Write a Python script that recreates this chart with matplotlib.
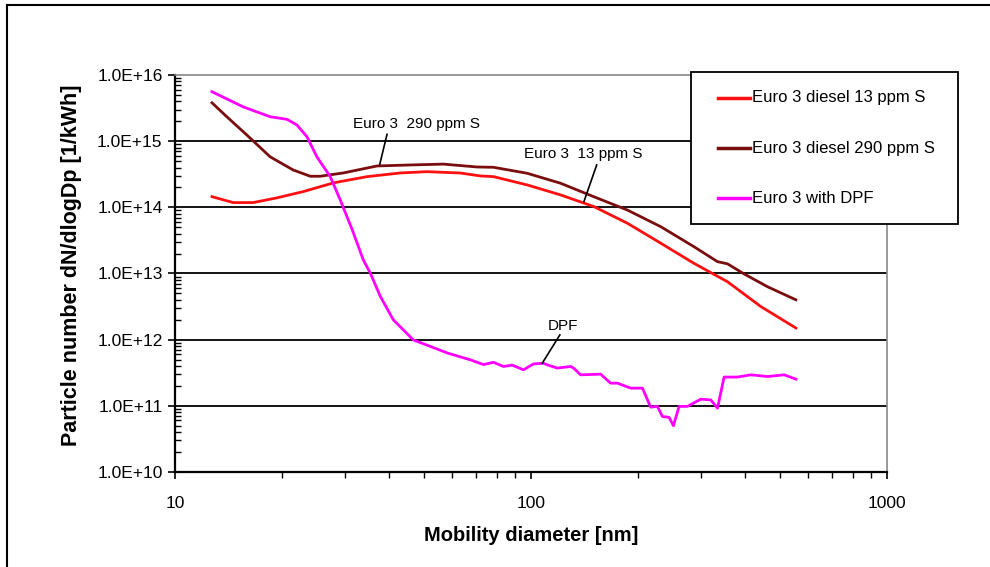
"""Particle size distributions for Euro 3 diesel with and without DPF."""

import matplotlib
matplotlib.use('Agg')
import matplotlib.pyplot as plt
from matplotlib.lines import Line2D
from matplotlib.patches import Rectangle
from matplotlib.ticker import FuncFormatter, LogLocator, NullFormatter

plt.rcParams['font.family'] = ['Liberation Sans', 'DejaVu Sans']

# Euro 3 diesel 13 ppm S
d_13 = [12.7, 14.56, 16.57, 19.32, 22.92, 27.83, 34.62, 42.96, 51.05, 63.35,
        72.13, 78.44, 97.57, 121.1, 149.9, 186.5, 231.4, 286.5, 356.4, 442.2, 554.6]
n_13 = [1.45e14, 1.18e14, 1.18e14, 1.39e14, 1.73e14, 2.34e14, 2.91e14, 3.31e14, 3.46e14, 3.30e14,
        2.98e14, 2.91e14, 2.18e14, 1.54e14, 1.03e14, 5.75e13, 2.87e13, 1.43e13, 7.5e12, 3.16e12, 1.5e12]

# Euro 3 diesel 290 ppm S
d_290 = [12.7, 13.98, 15.91, 18.50, 21.47, 23.98, 25.58, 29.69, 36.93, 45.81, 56.75,
         70.61, 78.44, 97.57, 121.1, 149.9, 186.5, 231.4, 286.5, 334.0, 356.4, 396.1, 461.8, 554.6]
n_290 = [3.8e15, 2.34e15, 1.24e15, 5.8e14, 3.67e14, 2.95e14, 2.95e14, 3.31e14, 4.22e14, 4.37e14, 4.5e14,
         4.07e14, 4.03e14, 3.27e14, 2.31e14, 1.45e14, 9.1e13, 5.1e13, 2.55e13, 1.51e13, 1.4e13, 9.9e12, 6.3e12, 4.0e12]

# Euro 3 with DPF
d_dpf = [12.69, 15.54, 18.50, 20.62, 21.99, 23.47, 25.03, 27.29, 29.12, 31.5, 33.80, 35.37, 37.73,
         41.05, 46.71, 52.15, 58.12, 67.56, 73.55, 78.44, 83.66, 88.53, 95.26, 101.6, 108.4, 111.1,
         118.5, 129.2, 131.7, 137.8, 156.9, 167.3, 174.8, 190.5, 205.5, 216.8, 226.5, 233.9, 244.1,
         251.2, 260.5, 275.0, 299.9, 319.8, 334.0, 348.6, 380.2, 414.4, 461.8, 514.2, 554.6]
n_dpf = [5.6e15, 3.3e15, 2.34e15, 2.14e15, 1.76e15, 1.17e15, 5.8e14, 2.91e14, 1.29e14, 4.5e13, 1.6e13, 1.01e13, 4.5e12,
         1.99e12, 9.9e11, 7.9e11, 6.3e11, 4.95e11, 4.2e11, 4.55e11, 3.93e11, 4.12e11, 3.5e11, 4.3e11, 4.4e11, 4.16e11,
         3.72e11, 3.93e11, 3.72e11, 2.94e11, 3.01e11, 2.2e11, 2.2e11, 1.85e11, 1.85e11, 9.55e10, 9.8e10, 6.9e10, 6.7e10,
         5.0e10, 9.8e10, 9.8e10, 1.26e11, 1.23e11, 9.2e10, 2.72e11, 2.72e11, 2.94e11, 2.77e11, 2.94e11, 2.53e11]

W, H = 990, 567
fig = plt.figure(figsize=(W / 100, H / 100), dpi=100)
ax = fig.add_axes([0.1768, 0.1676, 0.7192, 0.7001])

# grid lines at each decade
for v in [1e11, 1e12, 1e13, 1e14, 1e15]:
    ax.axhline(v, color='black', lw=1.3, zorder=1)

lines = []
lines += ax.plot(d_13, n_13, color='#ff1010', lw=2.0, label='Euro 3 diesel 13 ppm S', zorder=3)
lines += ax.plot(d_290, n_290, color='#7a0e0e', lw=2.0, label='Euro 3 diesel 290 ppm S', zorder=3)
lines += ax.plot(d_dpf, n_dpf, color='#ff00ff', lw=2.0, label='Euro 3 with DPF', zorder=3)

ax.set_xscale('log')
ax.set_yscale('log')
ax.set_xlim(10, 1000)
ax.set_ylim(1e10, 1e16)

ax.yaxis.set_major_locator(LogLocator(base=10, numticks=10))
ax.yaxis.set_minor_locator(LogLocator(base=10, subs=range(2, 10), numticks=20))
ax.yaxis.set_major_formatter(FuncFormatter(lambda v, p: f'{v:.1E}'))
ax.yaxis.set_minor_formatter(NullFormatter())
ax.xaxis.set_major_formatter(FuncFormatter(lambda v, p: f'{v:g}'))
ax.xaxis.set_minor_formatter(NullFormatter())

ax.tick_params(axis='y', which='major', direction='out', length=5, width=1.2, labelsize=12.5, pad=4)
ax.tick_params(axis='y', which='minor', direction='in', length=4, width=1.0)
ax.tick_params(axis='x', which='major', direction='out', length=5, width=1.2, labelsize=12.5, pad=12)
ax.tick_params(axis='x', which='minor', direction='out', length=4, width=1.0)

for s in ['left', 'bottom']:
    ax.spines[s].set_linewidth(1.6)
    ax.spines[s].set_color('black')
for s in ['top', 'right']:
    ax.spines[s].set_linewidth(1.2)
    ax.spines[s].set_color('#888888')

ax.set_xlabel('Mobility diameter [nm]', fontsize=14.5, fontweight='bold', labelpad=11)
ax.set_ylabel('Particle number dN/dlogDp [1/kWh]', fontsize=15.5, fontweight='bold')
ax.yaxis.set_label_coords(-0.131, 0.52)

# curve labels with leader lines
ax.text(31.7, 1.82e15, 'Euro 3  290 ppm S', fontsize=11, va='center', ha='left')
ax.plot([39.4, 37.6], [1.27e15, 4.5e14], color='black', lw=1.2, zorder=4)
ax.text(95.3, 6.3e14, 'Euro 3  13 ppm S', fontsize=11, va='center', ha='left')
ax.plot([152.9, 140.8], [4.37e14, 1.22e14], color='black', lw=1.2, zorder=4)
ax.text(111.1, 1.63e12, 'DPF', fontsize=11, va='center', ha='left')
ax.plot([120.5, 107.5], [1.18e12, 4.4e11], color='black', lw=1.2, zorder=4)

# legend box, drawn in figure pixels
fig.add_artist(Rectangle((690.7 / W, 1 - 224 / H), (958.3 - 690.7) / W, (224 - 71.7) / H,
                         transform=fig.transFigure, facecolor='white', edgecolor='black', lw=1.3, zorder=5))
for ln, y in zip(lines, [97.7, 148.3, 198.3]):
    fig.add_artist(Line2D([718 / W, 750 / W], [1 - y / H, 1 - y / H], color=ln.get_color(), lw=2.5, zorder=6))
    fig.text(752 / W, 1 - y / H, ln.get_label(), fontsize=12, va='center', ha='left', zorder=6)

# page border
fig.add_artist(Line2D([0.0071, 0.0071], [0, 0.991], color='black', lw=1.5))
fig.add_artist(Line2D([0.0071, 1.0], [0.991, 0.991], color='black', lw=1.5))

fig.savefig('out.png', dpi=100)
